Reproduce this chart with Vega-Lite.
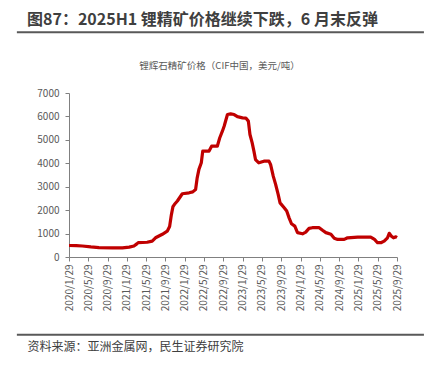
{
  "$schema": "https://vega.github.io/schema/vega-lite/v6.json",
  "background": "white",
  "padding": {"left": 15, "top": 12, "right": 3, "bottom": 5},
  "config": {"view": {"stroke": null}, "font": "Noto Sans CJK SC"},
  "width": 407,
  "height": 164,
  "title": {"text": "图87：2025H1 锂精矿价格继续下跌，6 月末反弹", "anchor": "start", "frame": "group", "fontSize": 16, "fontWeight": "bold", "color": "#3f3f3f", "offset": 3, "dx": 10},
  "layer": [
    {
      "data": {"values": [
        {"date": "2020-01-29", "price": 490},
        {"date": "2020-03-15", "price": 485},
        {"date": "2020-04-22", "price": 470},
        {"date": "2020-06-15", "price": 430},
        {"date": "2020-08-05", "price": 400},
        {"date": "2020-10-29", "price": 390},
        {"date": "2020-12-31", "price": 390},
        {"date": "2021-02-12", "price": 420},
        {"date": "2021-03-14", "price": 470},
        {"date": "2021-04-01", "price": 560},
        {"date": "2021-04-10", "price": 615},
        {"date": "2021-06-05", "price": 630},
        {"date": "2021-07-07", "price": 680},
        {"date": "2021-07-28", "price": 820},
        {"date": "2021-09-09", "price": 970},
        {"date": "2021-10-10", "price": 1100},
        {"date": "2021-10-25", "price": 1300},
        {"date": "2021-11-05", "price": 1800},
        {"date": "2021-11-15", "price": 2150},
        {"date": "2021-11-25", "price": 2250},
        {"date": "2021-12-13", "price": 2390},
        {"date": "2022-01-13", "price": 2700},
        {"date": "2022-02-25", "price": 2740},
        {"date": "2022-03-20", "price": 2780},
        {"date": "2022-04-07", "price": 2880},
        {"date": "2022-04-17", "price": 3380},
        {"date": "2022-04-28", "price": 3740},
        {"date": "2022-05-13", "price": 4020},
        {"date": "2022-05-22", "price": 4520},
        {"date": "2022-07-01", "price": 4520},
        {"date": "2022-07-17", "price": 4730},
        {"date": "2022-08-22", "price": 4730},
        {"date": "2022-09-06", "price": 5080},
        {"date": "2022-09-23", "price": 5370},
        {"date": "2022-10-04", "price": 5580},
        {"date": "2022-10-25", "price": 6080},
        {"date": "2022-11-14", "price": 6110},
        {"date": "2022-12-06", "price": 6080},
        {"date": "2022-12-27", "price": 5990},
        {"date": "2023-01-28", "price": 5940},
        {"date": "2023-02-18", "price": 5930},
        {"date": "2023-03-06", "price": 5800},
        {"date": "2023-03-16", "price": 5230},
        {"date": "2023-03-30", "price": 4870},
        {"date": "2023-04-10", "price": 4520},
        {"date": "2023-04-20", "price": 4160},
        {"date": "2023-05-11", "price": 4020},
        {"date": "2023-06-12", "price": 4090},
        {"date": "2023-07-14", "price": 4090},
        {"date": "2023-07-24", "price": 3950},
        {"date": "2023-08-10", "price": 3450},
        {"date": "2023-08-25", "price": 3100},
        {"date": "2023-09-10", "price": 2670},
        {"date": "2023-09-22", "price": 2310},
        {"date": "2023-10-18", "price": 2100},
        {"date": "2023-11-03", "price": 1960},
        {"date": "2023-11-18", "price": 1670},
        {"date": "2023-12-03", "price": 1420},
        {"date": "2023-12-24", "price": 1320},
        {"date": "2024-01-10", "price": 1040},
        {"date": "2024-02-11", "price": 990},
        {"date": "2024-03-02", "price": 1060},
        {"date": "2024-03-23", "price": 1220},
        {"date": "2024-04-13", "price": 1250},
        {"date": "2024-05-26", "price": 1250},
        {"date": "2024-06-16", "price": 1140},
        {"date": "2024-07-07", "price": 1040},
        {"date": "2024-08-08", "price": 970},
        {"date": "2024-08-29", "price": 800},
        {"date": "2024-09-19", "price": 750},
        {"date": "2024-10-31", "price": 750},
        {"date": "2024-11-21", "price": 820},
        {"date": "2025-01-24", "price": 850},
        {"date": "2025-04-16", "price": 850},
        {"date": "2025-05-10", "price": 750},
        {"date": "2025-05-29", "price": 610},
        {"date": "2025-06-19", "price": 610},
        {"date": "2025-07-10", "price": 680},
        {"date": "2025-07-31", "price": 820},
        {"date": "2025-08-11", "price": 1010},
        {"date": "2025-08-25", "price": 890},
        {"date": "2025-09-07", "price": 820},
        {"date": "2025-09-22", "price": 860},
        {"date": "2025-09-29", "price": 830}
      ]},
      "mark": {"type": "line", "color": "#C00000", "strokeWidth": 3.2, "strokeJoin": "round"},
      "encoding": {
        "x": {
          "field": "date", "type": "temporal",
          "scale": {"type": "utc", "nice": false, "range": [52, 380], "domain": [{"year": 2020, "month": 1, "date": 29, "utc": true}, {"year": 2025, "month": 9, "date": 29, "utc": true}]},
          "axis": {
            "title": "资料来源：亚洲金属网，民生证券研究院",
            "titleX": 10, "titleY": 89, "titleAnchor": "start", "titleAlign": "left", "titleBaseline": "middle",
            "titleFontSize": 12, "titleFontWeight": "normal", "titleColor": "#404040",
            "grid": false, "format": "%Y/%-m/%-d", "labelAngle": -90,
            "values": [
              {"year": 2020, "month": 1, "date": 29, "utc": true},
              {"year": 2020, "month": 5, "date": 29, "utc": true},
              {"year": 2020, "month": 9, "date": 29, "utc": true},
              {"year": 2021, "month": 1, "date": 29, "utc": true},
              {"year": 2021, "month": 5, "date": 29, "utc": true},
              {"year": 2021, "month": 9, "date": 29, "utc": true},
              {"year": 2022, "month": 1, "date": 29, "utc": true},
              {"year": 2022, "month": 5, "date": 29, "utc": true},
              {"year": 2022, "month": 9, "date": 29, "utc": true},
              {"year": 2023, "month": 1, "date": 29, "utc": true},
              {"year": 2023, "month": 5, "date": 29, "utc": true},
              {"year": 2023, "month": 9, "date": 29, "utc": true},
              {"year": 2024, "month": 1, "date": 29, "utc": true},
              {"year": 2024, "month": 5, "date": 29, "utc": true},
              {"year": 2024, "month": 9, "date": 29, "utc": true},
              {"year": 2025, "month": 1, "date": 29, "utc": true},
              {"year": 2025, "month": 5, "date": 29, "utc": true},
              {"year": 2025, "month": 9, "date": 29, "utc": true}
            ],
            "domainColor": "#808080", "tickColor": "#808080", "tickSize": 4,
            "labelFontSize": 10, "labelColor": "#595959", "labelPadding": 3,
            "labelFlush": false, "labelOverlap": false
          }
        },
        "y": {
          "field": "price", "type": "quantitative",
          "scale": {"domain": [0, 7000], "nice": false},
          "axis": {
            "title": "锂辉石精矿价格（CIF中国，美元/吨）",
            "titleAngle": 0, "titleX": 150, "titleY": -27.7, "titleAlign": "center", "titleBaseline": "middle",
            "titleFontSize": 9.5, "titleFontWeight": "normal", "titleColor": "#595959",
            "grid": false, "format": "d", "offset": -52, "labelOverlap": false,
            "values": [0, 1000, 2000, 3000, 4000, 5000, 6000, 7000],
            "domainColor": "#808080", "tickColor": "#808080", "tickSize": 4,
            "labelFontSize": 10, "labelColor": "#595959", "labelPadding": 6
          }
        }
      }
    },
    {
      "data": {"values": [{"part": "header"}]},
      "mark": {"type": "rule", "stroke": "#595959", "strokeWidth": 2, "clip": false},
      "encoding": {
        "x": {"datum": {"year": 2019, "month": 3, "date": 6, "utc": true}, "type": "temporal",
          "axis": {
            "title": "资料来源：亚洲金属网，民生证券研究院",
            "titleX": 10, "titleY": 89, "titleAnchor": "start", "titleAlign": "left", "titleBaseline": "middle",
            "titleFontSize": 12, "titleFontWeight": "normal", "titleColor": "#404040",
            "grid": false, "format": "%Y/%-m/%-d", "labelAngle": -90,
            "values": [
              {"year": 2020, "month": 1, "date": 29, "utc": true},
              {"year": 2020, "month": 5, "date": 29, "utc": true},
              {"year": 2020, "month": 9, "date": 29, "utc": true},
              {"year": 2021, "month": 1, "date": 29, "utc": true},
              {"year": 2021, "month": 5, "date": 29, "utc": true},
              {"year": 2021, "month": 9, "date": 29, "utc": true},
              {"year": 2022, "month": 1, "date": 29, "utc": true},
              {"year": 2022, "month": 5, "date": 29, "utc": true},
              {"year": 2022, "month": 9, "date": 29, "utc": true},
              {"year": 2023, "month": 1, "date": 29, "utc": true},
              {"year": 2023, "month": 5, "date": 29, "utc": true},
              {"year": 2023, "month": 9, "date": 29, "utc": true},
              {"year": 2024, "month": 1, "date": 29, "utc": true},
              {"year": 2024, "month": 5, "date": 29, "utc": true},
              {"year": 2024, "month": 9, "date": 29, "utc": true},
              {"year": 2025, "month": 1, "date": 29, "utc": true},
              {"year": 2025, "month": 5, "date": 29, "utc": true},
              {"year": 2025, "month": 9, "date": 29, "utc": true}
            ],
            "domainColor": "#808080", "tickColor": "#808080", "tickSize": 4,
            "labelFontSize": 10, "labelColor": "#595959", "labelPadding": 3,
            "labelFlush": false, "labelOverlap": false
          }},
        "x2": {"datum": {"year": 2026, "month": 3, "date": 18, "utc": true}},
        "y": {"datum": 9590, "type": "quantitative",
        "axis": {
            "title": "锂辉石精矿价格（CIF中国，美元/吨）",
            "titleAngle": 0, "titleX": 150, "titleY": -27.7, "titleAlign": "center", "titleBaseline": "middle",
            "titleFontSize": 9.5, "titleFontWeight": "normal", "titleColor": "#595959",
            "grid": false, "format": "d", "offset": -52, "labelOverlap": false,
            "values": [0, 1000, 2000, 3000, 4000, 5000, 6000, 7000],
            "domainColor": "#808080", "tickColor": "#808080", "tickSize": 4,
            "labelFontSize": 10, "labelColor": "#595959", "labelPadding": 6
        }}}
    },
    {
      "data": {"values": [{"part": "footer"}]},
      "mark": {"type": "rule", "stroke": "#595959", "strokeWidth": 2, "clip": false},
      "encoding": {
        "x": {"datum": {"year": 2019, "month": 3, "date": 6, "utc": true}, "type": "temporal",
          "axis": {
            "title": "资料来源：亚洲金属网，民生证券研究院",
            "titleX": 10, "titleY": 89, "titleAnchor": "start", "titleAlign": "left", "titleBaseline": "middle",
            "titleFontSize": 12, "titleFontWeight": "normal", "titleColor": "#404040",
            "grid": false, "format": "%Y/%-m/%-d", "labelAngle": -90,
            "values": [
              {"year": 2020, "month": 1, "date": 29, "utc": true},
              {"year": 2020, "month": 5, "date": 29, "utc": true},
              {"year": 2020, "month": 9, "date": 29, "utc": true},
              {"year": 2021, "month": 1, "date": 29, "utc": true},
              {"year": 2021, "month": 5, "date": 29, "utc": true},
              {"year": 2021, "month": 9, "date": 29, "utc": true},
              {"year": 2022, "month": 1, "date": 29, "utc": true},
              {"year": 2022, "month": 5, "date": 29, "utc": true},
              {"year": 2022, "month": 9, "date": 29, "utc": true},
              {"year": 2023, "month": 1, "date": 29, "utc": true},
              {"year": 2023, "month": 5, "date": 29, "utc": true},
              {"year": 2023, "month": 9, "date": 29, "utc": true},
              {"year": 2024, "month": 1, "date": 29, "utc": true},
              {"year": 2024, "month": 5, "date": 29, "utc": true},
              {"year": 2024, "month": 9, "date": 29, "utc": true},
              {"year": 2025, "month": 1, "date": 29, "utc": true},
              {"year": 2025, "month": 5, "date": 29, "utc": true},
              {"year": 2025, "month": 9, "date": 29, "utc": true}
            ],
            "domainColor": "#808080", "tickColor": "#808080", "tickSize": 4,
            "labelFontSize": 10, "labelColor": "#595959", "labelPadding": 3,
            "labelFlush": false, "labelOverlap": false
          }},
        "x2": {"datum": {"year": 2026, "month": 3, "date": 18, "utc": true}},
        "y": {"datum": -3320, "type": "quantitative",
        "axis": {
            "title": "锂辉石精矿价格（CIF中国，美元/吨）",
            "titleAngle": 0, "titleX": 150, "titleY": -27.7, "titleAlign": "center", "titleBaseline": "middle",
            "titleFontSize": 9.5, "titleFontWeight": "normal", "titleColor": "#595959",
            "grid": false, "format": "d", "offset": -52, "labelOverlap": false,
            "values": [0, 1000, 2000, 3000, 4000, 5000, 6000, 7000],
            "domainColor": "#808080", "tickColor": "#808080", "tickSize": 4,
            "labelFontSize": 10, "labelColor": "#595959", "labelPadding": 6
        }}}
    }
  ]
}
